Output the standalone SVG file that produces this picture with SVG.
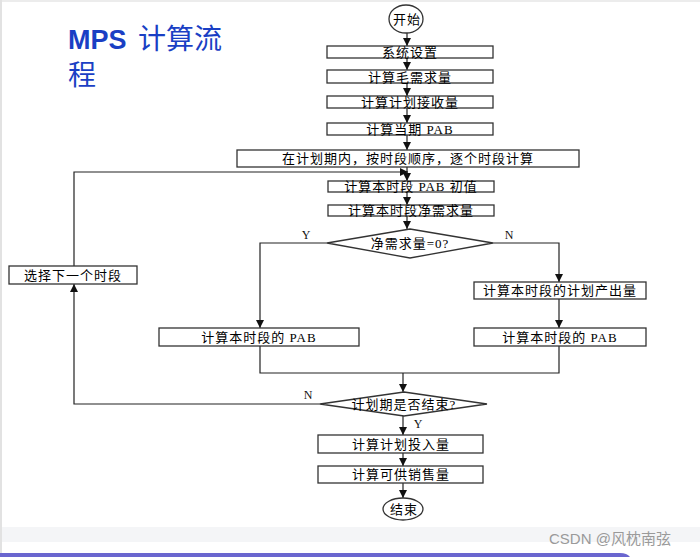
<svg xmlns="http://www.w3.org/2000/svg" width="700" height="557" viewBox="0 0 700 557">
<style>
.bx{fill:#fff;stroke:#333;stroke-width:1.3}
.ln{fill:none;stroke:#222;stroke-width:1.2}
.t{font-family:"Liberation Serif","Noto Sans CJK SC",serif;font-size:13px;letter-spacing:1px;fill:#000;text-anchor:middle}
.lb{font-family:"Liberation Serif",serif;font-size:12px;fill:#111;text-anchor:middle}
</style>
<defs>
<marker id="ar" viewBox="0 0 10 10" refX="10" refY="5" markerWidth="8" markerHeight="8" markerUnits="userSpaceOnUse" orient="auto">
<path d="M0,0 L10,5 L0,10 z" fill="#111"/>
</marker>
</defs>
<rect x="0" y="0" width="700" height="557" fill="#fff"/>
<rect x="0" y="0" width="700" height="2" fill="#ececec"/>
<rect x="0" y="0" width="2" height="557" fill="#e2e2e2"/>
<rect x="2" y="527" width="698" height="15" fill="#f4f5f7"/>
<path d="M0,553 H620 Q627,553 630,557 H0 z" fill="#6a66cf"/>
<text x="68" y="49" font-family="Liberation Sans,'Noto Sans CJK SC',sans-serif" font-size="27" font-weight="bold" fill="#1a3fc4">MPS <tspan font-weight="normal" dx="4" font-size="28">计算流</tspan></text>
<text x="68" y="85" font-family="'Noto Sans CJK SC',sans-serif" font-size="28" fill="#1a3fc4">程</text>
<g id="connectors">
<line class="ln" x1="407" y1="33" x2="407" y2="46" marker-end="url(#ar)"/>
<line class="ln" x1="407" y1="58" x2="407" y2="70" marker-end="url(#ar)"/>
<line class="ln" x1="407" y1="83" x2="407" y2="96" marker-end="url(#ar)"/>
<line class="ln" x1="407" y1="108" x2="407" y2="123" marker-end="url(#ar)"/>
<line class="ln" x1="407" y1="135" x2="407" y2="150" marker-end="url(#ar)"/>
<line class="ln" x1="407" y1="167" x2="407" y2="181" marker-end="url(#ar)"/>
<line class="ln" x1="407" y1="192" x2="407" y2="205" marker-end="url(#ar)"/>
<line class="ln" x1="407" y1="216" x2="407" y2="229" marker-end="url(#ar)"/>
<polyline class="ln" points="327,243 260,243 260,328" marker-end="url(#ar)"/>
<polyline class="ln" points="493,243 559,243 559,282" marker-end="url(#ar)"/>
<line class="ln" x1="559" y1="299" x2="559" y2="328" marker-end="url(#ar)"/>
<polyline class="ln" points="260,346 260,373 559,373 559,346"/>
<line class="ln" x1="403" y1="373" x2="403" y2="392" marker-end="url(#ar)"/>
<polyline class="ln" points="320,404 74,404 74,284" marker-end="url(#ar)"/>
<polyline class="ln" points="74,266 74,172 408,172" marker-end="url(#ar)"/>
<line class="ln" x1="403" y1="416" x2="403" y2="435" marker-end="url(#ar)"/>
<line class="ln" x1="403" y1="453" x2="403" y2="466" marker-end="url(#ar)"/>
<line class="ln" x1="403" y1="483" x2="403" y2="498" marker-end="url(#ar)"/>
<text class="lb" x="306" y="239">Y</text>
<text class="lb" x="509" y="239">N</text>
<text class="lb" x="308" y="399">N</text>
<text class="lb" x="418" y="428">Y</text>
</g>
<g id="start"><ellipse class="bx" cx="406" cy="19" rx="17" ry="14"/><text class="t" x="407" y="24">开始</text></g>
<g id="n1"><rect class="bx" x="327" y="46" width="166" height="12"/><text class="t" x="410" y="57">系统设置</text></g>
<g id="n2"><rect class="bx" x="327" y="70" width="166" height="13"/><text class="t" x="410" y="82">计算毛需求量</text></g>
<g id="n3"><rect class="bx" x="327" y="96" width="166" height="12"/><text class="t" x="410" y="107">计算计划接收量</text></g>
<g id="n4"><rect class="bx" x="327" y="123" width="166" height="12"/><text class="t" x="410" y="134">计算当期 PAB</text></g>
<g id="n5"><rect class="bx" x="237" y="150" width="342" height="17"/><text class="t" x="408" y="163">在计划期内，按时段顺序，逐个时段计算</text></g>
<g id="n6"><rect class="bx" x="328" y="181" width="166" height="11"/><text class="t" x="411" y="191">计算本时段 PAB 初值</text></g>
<g id="n7"><rect class="bx" x="328" y="205" width="166" height="11"/><text class="t" x="411" y="215">计算本时段净需求量</text></g>
<g id="d1"><polygon class="bx" points="410,229 493,243 410,258 327,243"/><text class="t" x="410" y="248">净需求量=0?</text></g>
<g id="n8"><rect class="bx" x="474" y="282" width="172" height="17"/><text class="t" x="560" y="295">计算本时段的计划产出量</text></g>
<g id="n9"><rect class="bx" x="159" y="328" width="200" height="18"/><text class="t" x="259" y="342">计算本时段的 PAB</text></g>
<g id="n10"><rect class="bx" x="474" y="328" width="172" height="18"/><text class="t" x="560" y="342">计算本时段的 PAB</text></g>
<g id="n11"><rect class="bx" x="9" y="266" width="128" height="18"/><text class="t" x="73" y="280">选择下一个时段</text></g>
<g id="d2"><polygon class="bx" points="404,392 487,404 404,416 320,404"/><text class="t" x="404" y="409">计划期是否结束?</text></g>
<g id="n12"><rect class="bx" x="318" y="435" width="165" height="18"/><text class="t" x="401" y="449">计算计划投入量</text></g>
<g id="n13"><rect class="bx" x="318" y="466" width="165" height="17"/><text class="t" x="401" y="479">计算可供销售量</text></g>
<g id="end"><ellipse class="bx" cx="403" cy="509" rx="20" ry="11"/><text class="t" x="404" y="514">结束</text></g>
<text x="549" y="544" font-family="Liberation Sans,'Noto Sans CJK SC',sans-serif" font-size="15" fill="#9a9a9a">CSDN @风枕南弦</text>
</svg>
